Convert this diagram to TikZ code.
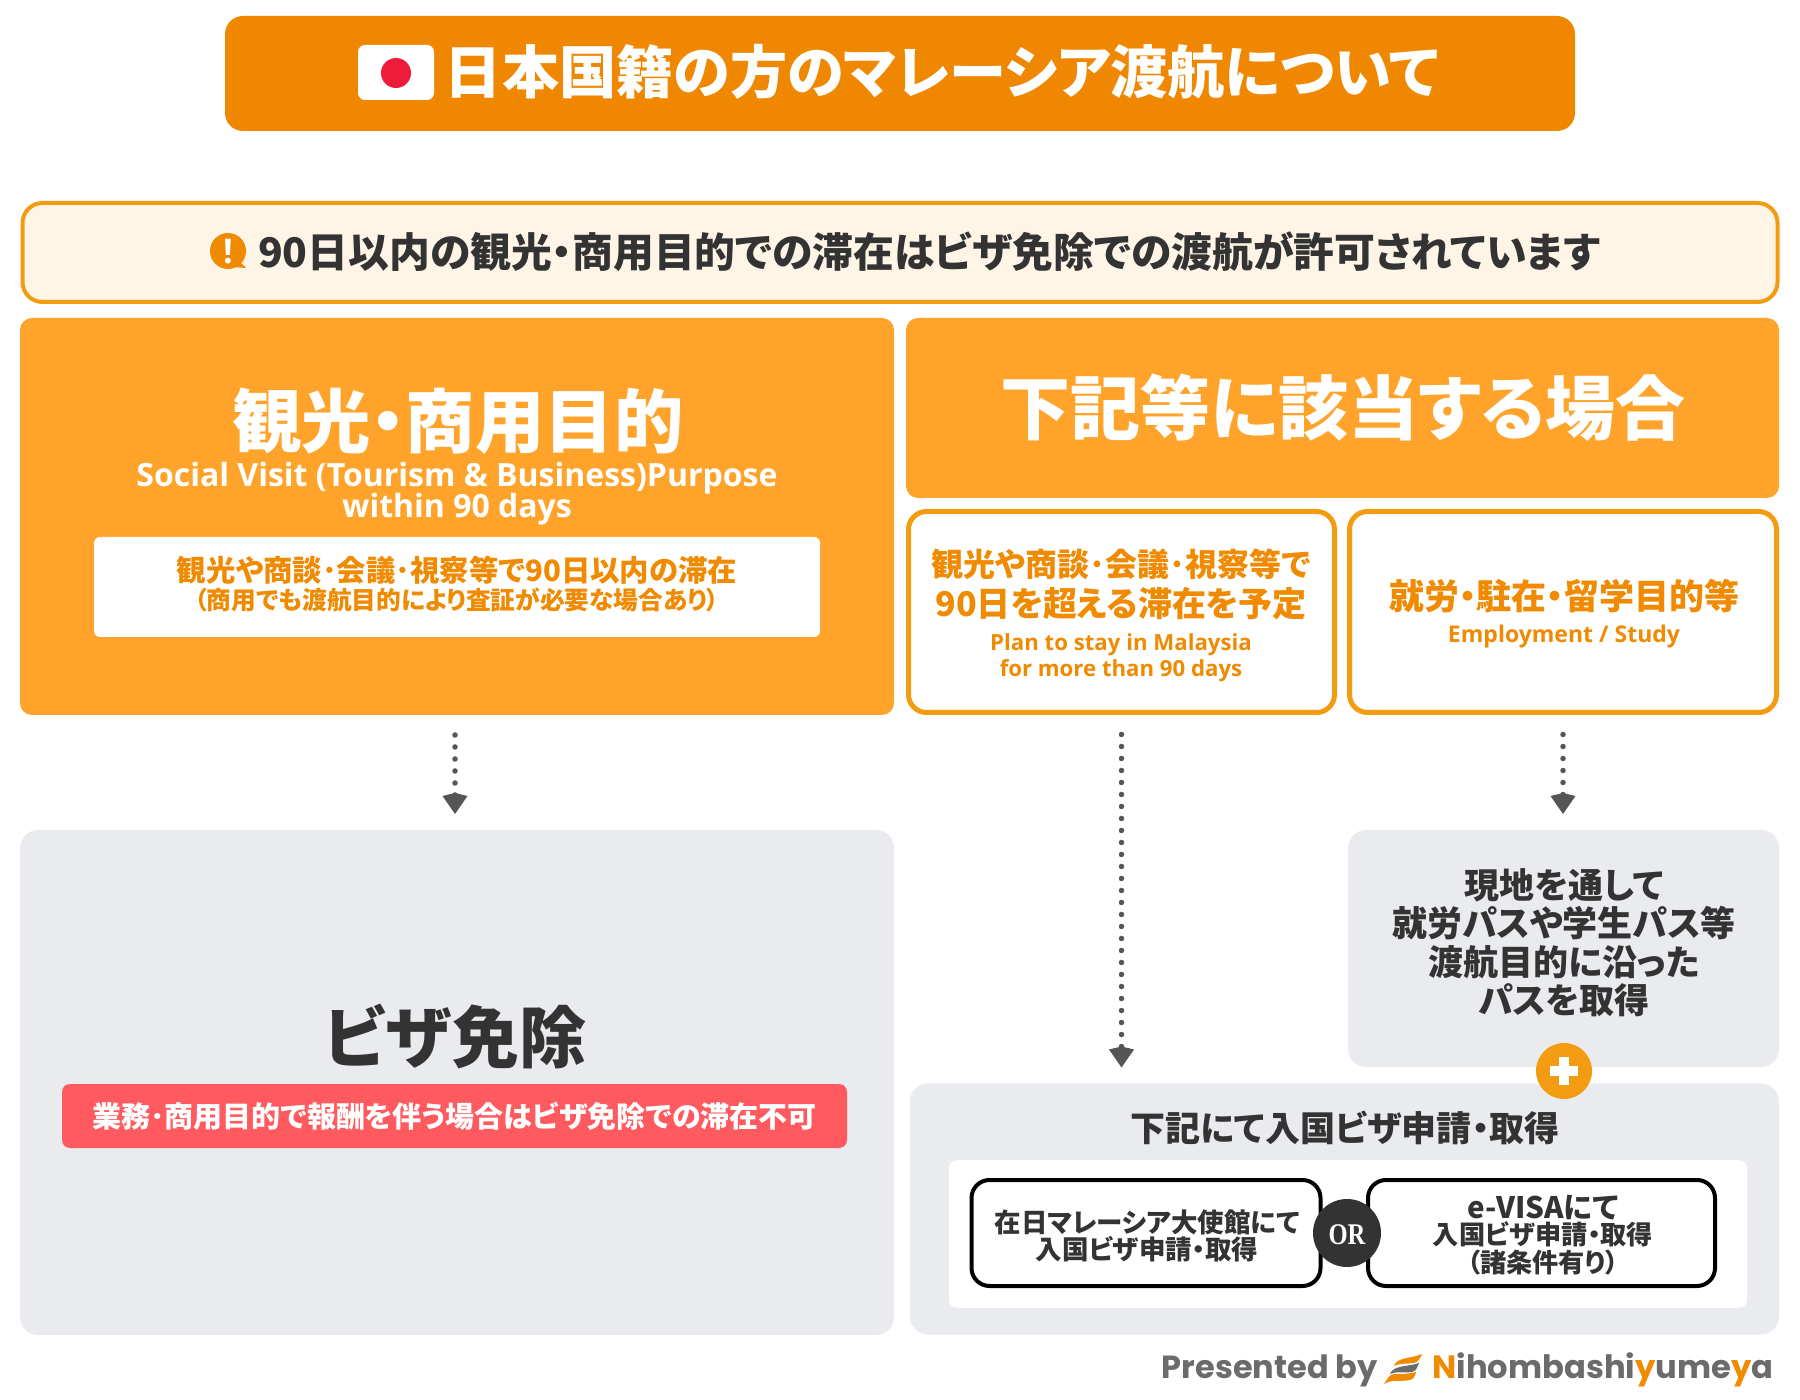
\documentclass[tikz,border=0pt]{standalone}
\usepackage{fontspec}
\usepackage{graphicx}
\usetikzlibrary{arrows.meta}
\newfontfamily\jp{Noto Sans CJK JP}[RawFeature={+palt}]
\newfontfamily\ltn{Open Sans}
\newfontfamily\pop{Poppins}
\newfontfamily\orf{Liberation Serif}
\newcommand\fs[1]{\fontsize{#1}{#1}\selectfont\rule[-.12em]{0pt}{1em}}
\definecolor{hdr}{HTML}{F08700}
\definecolor{org}{HTML}{FFA32B}
\definecolor{brd}{HTML}{F39C12}
\definecolor{cream}{HTML}{FEF5E7}
\definecolor{gry}{HTML}{E9EBEE}
\definecolor{ink}{HTML}{333333}
\definecolor{dot}{HTML}{555555}
\definecolor{rd}{HTML}{FF5A5F}
\definecolor{sunc}{HTML}{EE1C3A}
\definecolor{txo}{HTML}{F08A00}
\definecolor{foot}{HTML}{6B6B6B}
\tikzset{
 x=0.5pt,y=-0.5pt,
 panel/.style={rectangle,inner sep=0pt,outer sep=0pt},
 hbox/.style={panel,fill=hdr,rounded corners=9pt},
 obox/.style={panel,fill=org,rounded corners=6pt},
 lbox/.style={panel,fill=white,draw=brd,line width=2.5pt,rounded corners=9pt},
 gbox/.style={panel,fill=gry,rounded corners=9pt},
 kbox/.style={panel,fill=white,draw=black,line width=2pt,rounded corners=9pt},
 tx/.style={inner sep=0pt,outer sep=0pt,font=\jp\bfseries,text=ink},
 ltx/.style={inner sep=0pt,outer sep=0pt,font=\ltn\bfseries,text=txo},
 flow/.style={draw=dot,line width=2.75pt,line cap=round,dash pattern=on 0pt off 6pt,
   -{Kite[length=10.5pt,width=12.5pt,inset=1.5pt,fill=dot]}},
}
\begin{document}
\begin{tikzpicture}
\useasboundingbox[fill=white] (0,0) rectangle (1800,1400);
% title
\node[hbox,minimum width=675pt,minimum height=57.5pt] (title) at (900,73.5) {};
\node[panel,fill=white,rounded corners=3.5pt,minimum width=38pt,minimum height=27.5pt] (flag) at (396,72.5) {};
\node[circle,fill=sunc,minimum size=15pt,inner sep=0pt] (sun) at (396,73) {};
\node[tx,text=white] (titlet) at (942,72) {\fs{28.6}日本国籍の方のマレーシア渡航について};
% notice
\node[panel,fill=cream,draw=brd,line width=2pt,rounded corners=10pt,minimum width=877.5pt,minimum height=49.5pt] (notice) at (900,252.5) {};
\node[circle,fill=txo,minimum size=18pt,inner sep=0pt] (icon) at (228,251) {};
\fill[txo] (236,258) -- (246,268) -- (232,267) -- cycle;
\node[font=\ltn\bfseries,text=white,inner sep=0pt] (iconx) at (228,251) {\fs{17}!};
\node[tx] (noticet) at (929,252) {\fs{20.4}90日以内の観光・商用目的での滞在はビザ免除での渡航が許可されています};
% purpose
\node[obox,minimum width=437pt,minimum height=198.5pt] (purpose) at (457,516.5) {};
\node[tx,text=white] (pt1) at (458,421) {\fs{34.7}観光・商用目的};
\node[ltx,text=white] (pt2) at (457,476) {\fs{16}Social Visit (Tourism \& Business)Purpose};
\node[ltx,text=white] (pt3) at (457,507.5) {\fs{16}within 90 days};
\node[panel,fill=white,rounded corners=3pt,minimum width=363pt,minimum height=50pt] (pwhite) at (457,587) {};
\node[tx,text=txo] (pw1) at (457,570.5) {\fs{14.7}観光や商談･会議･視察等で90日以内の滞在};
\node[tx,text=txo] (pw2) at (457,600) {\fs{12.35}（商用でも渡航目的により査証が必要な場合あり）};
% right header
\node[obox,minimum width=436.5pt,minimum height=90pt] (rhead) at (1342.5,408) {};
\node[tx,text=white] (rht) at (1343,408) {\fs{35}下記等に該当する場合};
% option boxes
\node[lbox,minimum width=213pt,minimum height=100.5pt] (boxa) at (1121.5,612) {};
\node[tx,text=txo] (a1) at (1121,564) {\fs{16}観光や商談･会議･視察等で};
\node[tx,text=txo] (a2) at (1121,604) {\fs{17}90日を超える滞在を予定};
\node[ltx] (a3) at (1121,643) {\fs{11.1}Plan to stay in Malaysia};
\node[ltx] (a4) at (1121,669) {\fs{11.1}for more than 90 days};
\node[lbox,minimum width=213.5pt,minimum height=100.5pt] (boxb) at (1563,612) {};
\node[tx,text=txo] (b1) at (1564,596) {\fs{17.5}就労・駐在・留学目的等};
\node[ltx] (b2) at (1564,635) {\fs{11.5}Employment / Study};
% result left
\node[gbox,minimum width=437pt,minimum height=252.5pt] (free) at (457,1082.5) {};
\node[tx] (ft) at (455,1037) {\fs{33.5}ビザ免除};
\node[panel,fill=rd,rounded corners=4pt,minimum width=392.5pt,minimum height=32pt] (warn) at (454.5,1116) {};
\node[tx,text=white] (wt) at (454.5,1116) {\fs{14.5}業務･商用目的で報酬を伴う場合はビザ免除での滞在不可};
% result right
\node[gbox,minimum width=215.5pt,minimum height=118.5pt] (pass) at (1563.5,948.5) {};
\node[tx] (p1) at (1564,885) {\fs{17.5}現地を通して};
\node[tx] (p2) at (1564,923) {\fs{17.5}就労パスや学生パス等};
\node[tx] (p3) at (1564,962) {\fs{17.5}渡航目的に沿った};
\node[tx] (p4) at (1564,1000) {\fs{17.5}パスを取得};
\node[gbox,minimum width=434.5pt,minimum height=125.5pt] (apply) at (1344.5,1209) {};
\node[circle,fill=brd,minimum size=28pt,inner sep=0pt] (plus) at (1564,1071) {};
\node[panel,fill=white,minimum width=14pt,minimum height=5pt] (plush) at (1564,1071) {};
\node[panel,fill=white,minimum width=5pt,minimum height=14pt] (plusv) at (1564,1071) {};
\node[tx] (at) at (1345,1128) {\fs{17.5}下記にて入国ビザ申請・取得};
\node[panel,fill=white,rounded corners=4pt,minimum width=399pt,minimum height=74pt] (apanel) at (1348,1234) {};
\node[kbox,minimum width=174.5pt,minimum height=53pt] (emb) at (1146,1233) {};
\node[kbox,minimum width=173.5pt,minimum height=53pt] (evisa) at (1541.5,1233) {};
\node[circle,fill=ink,minimum size=34pt,inner sep=0pt,font=\orf\bfseries,text=white] (or) at (1347,1233) {\scalebox{.82}[1]{\fs{15}OR}};
\node[tx] (e1) at (1147,1222) {\fs{13.25}在日マレーシア大使館にて};
\node[tx] (e2) at (1147,1249) {\fs{13.25}入国ビザ申請・取得};
\node[tx] (v1) at (1543,1207) {\fs{14.8}e-VISAにて};
\node[tx] (v2) at (1543,1235) {\fs{13.1}入国ビザ申請・取得};
\node[tx] (v3) at (1543,1263) {\fs{13.1}（諸条件有り）};
% connectors
\draw[flow,shorten <=10pt,shorten >=8pt] ([xshift=-1pt]purpose.south) -- ([xshift=-1pt]free.north);
\draw[flow,shorten <=11pt,shorten >=8pt] (boxa.south) -- (boxa.south |- apply.north);
\draw[flow,shorten <=11pt,shorten >=8pt] (boxb.south) -- (boxb.south |- pass.north);
% footer
\node[inner sep=0pt,anchor=east,font=\pop\bfseries,text=foot] (pres) at (1378,1369) {\fs{16}Presented by};
\fill[txo] (1394,1366) .. controls (1397,1357) and (1410,1359) .. (1422,1354) .. controls (1420,1359) and (1418,1362) .. (1414,1363) .. controls (1406,1364) and (1400,1363) .. (1394,1366) -- cycle;
\fill[foot] (1390,1374) .. controls (1393,1365) and (1408,1367) .. (1419,1363) .. controls (1417,1368) and (1416,1371) .. (1412,1372) .. controls (1404,1373) and (1396,1371) .. (1390,1374) -- cycle;
\fill[txo] (1384,1384) .. controls (1388,1378) and (1390,1374) .. (1394,1374) .. controls (1402,1374) and (1408,1374) .. (1416,1372) .. controls (1415,1376) and (1414,1379) .. (1410,1380) .. controls (1400,1382) and (1392,1379) .. (1384,1384) -- cycle;
\node[inner sep=0pt,anchor=west,font=\pop\bfseries,text=foot] (brand) at (1432,1369) {\fs{16.1}\textcolor{txo}{N}ihombashi\textcolor{txo}{y}ume\textcolor{txo}{y}a};
\end{tikzpicture}
\end{document}
